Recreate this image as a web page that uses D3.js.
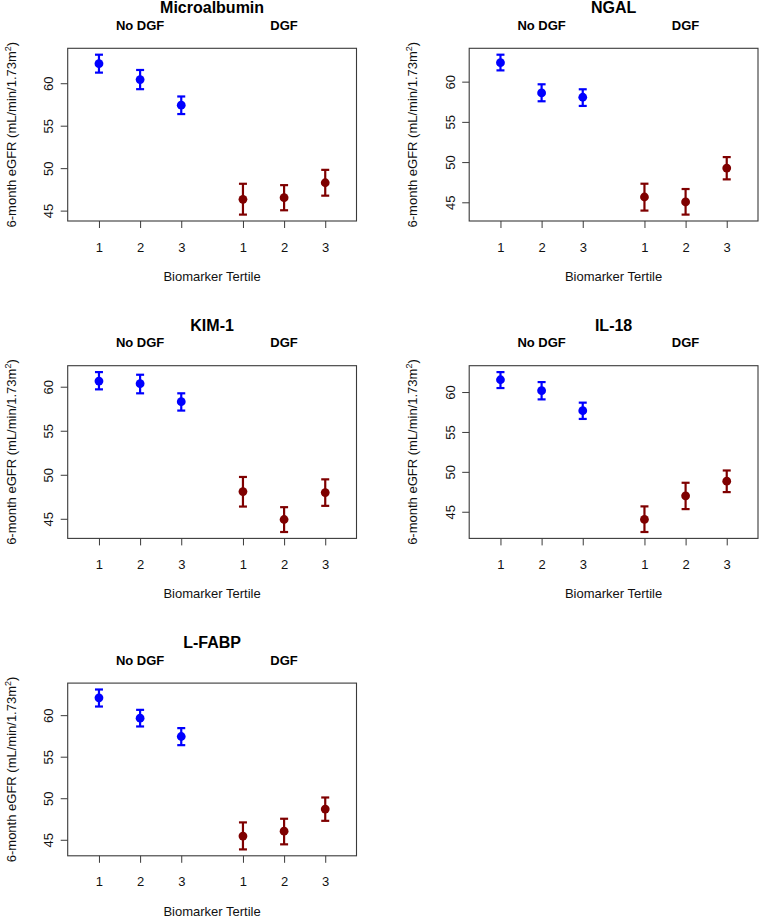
<!DOCTYPE html>
<html>
<head>
<meta charset="utf-8">
<script src="https://cdn.jsdelivr.net/npm/d3@7"></script>
<style>
  html, body { margin: 0; padding: 0; background: #fff; }
  svg { display: block; font-family: "Liberation Sans", Arial, Helvetica, sans-serif; }
</style>
</head>
<body>
<svg id="chart" width="760" height="917"></svg>
<script>
// ---------- DATA ----------
const biomarkers = ["Microalbumin", "NGAL", "KIM-1", "IL-18", "L-FABP"];
const groupLabels = ["No DGF", "DGF"];
const groupCenters = [2, 5.5];
const xPositions = [1, 2, 3, 4.5, 5.5, 6.5];
const tickLabels = ["1", "2", "3", "1", "2", "3"];
const xLimits = [0.5, 7];
const yTicks = [45, 50, 55, 60];
const pointGroup = ["No DGF", "No DGF", "No DGF", "DGF", "DGF", "DGF"];

const microalbuminMean  = [62.30, 60.43, 57.42, 46.33, 46.52, 48.28];
const microalbuminLower = [61.25, 59.30, 56.37, 44.53, 45.04, 46.76];
const microalbuminUpper = [63.36, 61.56, 58.44, 48.16, 48.00, 49.80];

const ngalMean  = [62.36, 58.60, 58.06, 45.66, 45.04, 49.25];
const ngalLower = [61.40, 57.56, 56.98, 43.97, 43.47, 47.85];
const ngalUpper = [63.35, 59.67, 59.05, 47.31, 46.65, 50.62];

const kim1Mean  = [60.64, 60.34, 58.30, 48.09, 44.92, 47.98];
const kim1Lower = [59.70, 59.25, 57.29, 46.39, 43.50, 46.47];
const kim1Upper = [61.66, 61.36, 59.25, 49.75, 46.32, 49.48];

const il18Mean  = [61.54, 60.17, 57.67, 44.04, 47.00, 48.83];
const il18Lower = [60.50, 59.08, 56.63, 42.46, 45.33, 47.46];
const il18Upper = [62.50, 61.25, 58.67, 45.67, 48.63, 50.17];

const lfabpMean  = [62.09, 59.64, 57.43, 45.44, 46.04, 48.69];
const lfabpLower = [61.04, 58.64, 56.39, 43.84, 44.45, 47.28];
const lfabpUpper = [63.09, 60.64, 58.44, 47.09, 47.53, 50.09];

const panelMeans  = [microalbuminMean, ngalMean, kim1Mean, il18Mean, lfabpMean];
const panelLowers = [microalbuminLower, ngalLower, kim1Lower, il18Lower, lfabpLower];
const panelUppers = [microalbuminUpper, ngalUpper, kim1Upper, il18Upper, lfabpUpper];

// ---------- LAYOUT ----------
const colOrigins = [0, 401.5];
const rowOrigins = [0, 317.4, 634.8];
const box = { left: 67.7, right: 356.5, top: 48.3, bottom: 221 };
const groupColor = { "No DGF": "#0000ff", "DGF": "#7f0000" };
const axisColor = "#3a3a3a";

const svg = d3.select("#chart");

// R-style 4% axis expansion
function rExpand(lo, hi) {
  const d = (hi - lo) * 0.04;
  return [lo - d, hi + d];
}

biomarkers.forEach((name, p) => {
  const col = p % 2, row = Math.floor(p / 2);
  const g = svg.append("g").attr("transform", `translate(${colOrigins[col]},${rowOrigins[row]})`);

  const means = panelMeans[p], lows = panelLowers[p], highs = panelUppers[p];
  const x = d3.scaleLinear().domain(rExpand(xLimits[0], xLimits[1])).range([box.left, box.right]);
  const y = d3.scaleLinear().domain(rExpand(d3.min(lows), d3.max(highs))).range([box.bottom, box.top]);

  // box
  g.append("rect")
    .attr("x", box.left).attr("y", box.top)
    .attr("width", box.right - box.left).attr("height", box.bottom - box.top)
    .attr("fill", "none").attr("stroke", axisColor).attr("stroke-width", 1.1);

  // y axis
  const yAxis = g.append("g").attr("transform", `translate(${box.left},0)`)
    .call(d3.axisLeft(y).tickValues(yTicks).tickSize(7).tickSizeOuter(0).tickFormat(d3.format("d")));
  yAxis.select(".domain").remove();
  yAxis.selectAll(".tick line").attr("stroke", axisColor).attr("stroke-width", 1);
  yAxis.selectAll(".tick text")
    .attr("fill", "#111").attr("font-size", 13)
    .attr("dy", null)
    .attr("text-anchor", "middle")
    .attr("x", 0).attr("y", 0)
    .attr("transform", "translate(-14.5,0) rotate(-90)");

  // x axis
  const xAxis = g.append("g").attr("transform", `translate(0,${box.bottom})`)
    .call(d3.axisBottom(x).tickValues(xPositions).tickSize(7).tickSizeOuter(0)
      .tickFormat((d, i) => tickLabels[i]));
  xAxis.select(".domain").remove();
  xAxis.selectAll(".tick line").attr("stroke", axisColor).attr("stroke-width", 1);
  xAxis.selectAll(".tick text").attr("fill", "#111").attr("font-size", 13)
    .attr("y", 30.7).attr("dy", null);

  // error bars
  const pts = xPositions.map((xv, i) => ({ x: xv, m: means[i], lo: lows[i], hi: highs[i], grp: pointGroup[i] }));
  const eg = g.append("g");
  eg.selectAll("line.bar").data(pts).join("line").attr("class", "bar")
    .attr("x1", d => x(d.x)).attr("x2", d => x(d.x))
    .attr("y1", d => y(d.lo)).attr("y2", d => y(d.hi))
    .attr("stroke", d => groupColor[d.grp]).attr("stroke-width", 2.2);
  ["lo", "hi"].forEach(k => {
    eg.selectAll("line.cap-" + k).data(pts).join("line").attr("class", "cap-" + k)
      .attr("x1", d => x(d.x) - 4).attr("x2", d => x(d.x) + 4)
      .attr("y1", d => y(d[k])).attr("y2", d => y(d[k]))
      .attr("stroke", d => groupColor[d.grp]).attr("stroke-width", 2.2);
  });
  eg.selectAll("circle").data(pts).join("circle")
    .attr("cx", d => x(d.x)).attr("cy", d => y(d.m)).attr("r", 4.4)
    .attr("fill", d => groupColor[d.grp]);

  // titles
  g.append("text").attr("x", (box.left + box.right) / 2).attr("y", 13.3)
    .attr("text-anchor", "middle").attr("font-weight", "bold").attr("font-size", 16)
    .attr("fill", "#000").text(name);
  groupLabels.forEach((lab, i) => {
    g.append("text").attr("x", x(groupCenters[i])).attr("y", 30)
      .attr("text-anchor", "middle").attr("font-weight", "bold").attr("font-size", 13)
      .attr("fill", "#000").text(lab);
  });
  g.append("text").attr("x", (box.left + box.right) / 2).attr("y", 281)
    .attr("text-anchor", "middle").attr("font-size", 13).attr("fill", "#111")
    .text("Biomarker Tertile");

  const yl = g.append("text")
    .attr("transform", `translate(15.5,${(box.top + box.bottom) / 2}) rotate(-90)`)
    .attr("text-anchor", "middle").attr("font-size", 13).attr("fill", "#111");
  yl.append("tspan").text("6-month eGFR (mL/min/1.73m");
  yl.append("tspan").attr("font-size", 9).attr("dy", -5).text("2");
  yl.append("tspan").attr("dy", 5).text(")");
});
</script>
</body>
</html>
